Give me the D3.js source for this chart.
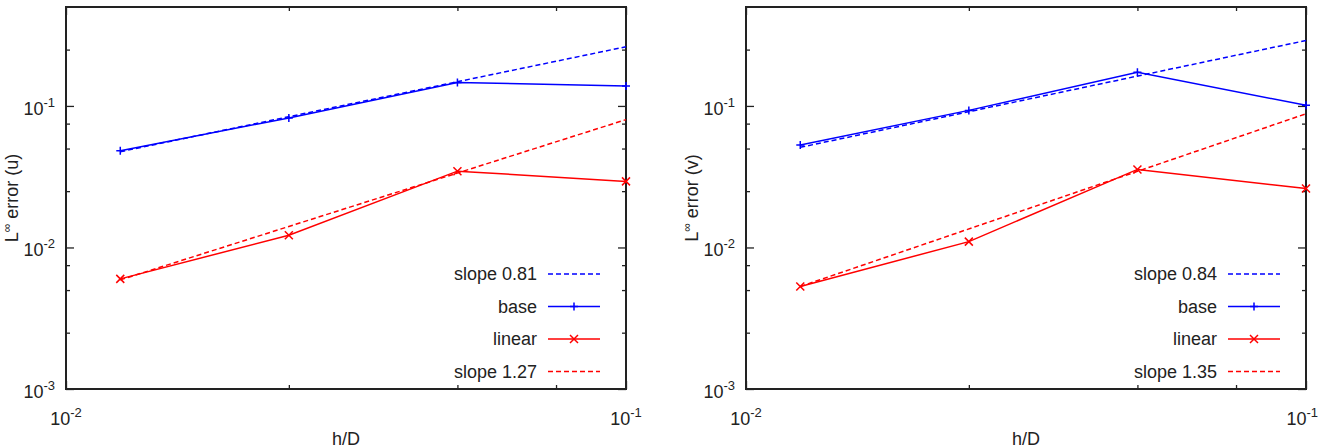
<!DOCTYPE html>
<html><head><meta charset="utf-8">
<script src="https://cdn.jsdelivr.net/npm/d3@7"></script>
<style>body{margin:0;background:#fff}svg{display:block}text{font-family:"Liberation Sans",Arial,sans-serif;fill:#222}</style>
</head><body>
<svg id="c" width="1320" height="448"></svg>
<script>
// ---- data ----
const hD = [0.0125, 0.025, 0.05, 0.1];
const fitX = [0.0125, 0.1];
const uBase = [0.0483, 0.0822, 0.1466, 0.1384];
const uLinear = [0.0060, 0.0122, 0.0346, 0.0293];
const uSlopeBase = [0.0475, 0.262];
const uSlopeLinear = [0.0059, 0.080];
const vBase = [0.053, 0.093, 0.173, 0.101];
const vLinear = [0.0053, 0.0110, 0.0356, 0.0261];
const vSlopeBase = [0.051, 0.29];
const vSlopeLinear = [0.0053, 0.088];
const xMajor = [0.01, 0.1];
const xMajorExp = ["-2", "-1"];
const xMinor = [0.025, 0.05, 0.075];
const yMajor = [0.001, 0.01, 0.1];
const yMajorExp = ["-3", "-2", "-1"];
const yMinor = [0.0025, 0.005, 0.0075, 0.025, 0.05, 0.075, 0.25];
const xDomain = [0.01, 0.1];
const yDomain = [0.001, 0.5];
const panelVars = ["u", "v"];
const slopeLabels = [["slope 0.81", "slope 1.27"], ["slope 0.84", "slope 1.35"]];
const baseSeries = [uBase, vBase];
const linSeries = [uLinear, vLinear];
const slopeBaseSeries = [uSlopeBase, vSlopeBase];
const slopeLinSeries = [uSlopeLinear, vSlopeLinear];

const BLUE = "#0000ff", RED = "#ff0000", BORDER = "#222";
const svg = d3.select("#c");
const W = 1320;
const panels = [{x0: 66, x1: 626}, {x0: 746, x1: 1306}];
const yTop = 7, yBottom = 389;

function plus(g, x, y, c) {
  g.append("path").attr("d", `M${x-4},${y}H${x+4}M${x},${y-4}V${y+4}`)
    .attr("stroke", c).attr("stroke-width", 1.5).attr("fill", "none");
}
function cross(g, x, y, c) {
  g.append("path").attr("d", `M${x-4},${y-4}L${x+4},${y+4}M${x-4},${y+4}L${x+4},${y-4}`)
    .attr("stroke", c).attr("stroke-width", 1.5).attr("fill", "none");
}

panels.forEach((p, i) => {
  const x = d3.scaleLog().domain(xDomain).range([p.x0, p.x1]);
  const y = d3.scaleLog().domain(yDomain).range([yBottom, yTop]);
  const g = svg.append("g");

  [[d3.axisBottom, yBottom], [d3.axisTop, yTop]].forEach(([fn, pos]) => {
    g.append("g").attr("transform", `translate(0,${pos})`)
      .call(fn(x).tickValues(xMajor).tickSize(-8).tickFormat(""));
    g.append("g").attr("transform", `translate(0,${pos})`)
      .call(fn(x).tickValues(xMinor).tickSize(-4).tickFormat(""));
  });
  [[d3.axisLeft, p.x0], [d3.axisRight, p.x1]].forEach(([fn, pos]) => {
    g.append("g").attr("transform", `translate(${pos},0)`)
      .call(fn(y).tickValues(yMajor).tickSize(-8).tickFormat(""));
    g.append("g").attr("transform", `translate(${pos},0)`)
      .call(fn(y).tickValues(yMinor).tickSize(-4).tickFormat(""));
  });
  g.selectAll(".domain").remove();
  g.selectAll(".tick line").attr("stroke", BORDER).attr("stroke-width", 1.3);

  g.append("rect").attr("x", p.x0).attr("y", yTop).attr("width", p.x1 - p.x0).attr("height", yBottom - yTop)
    .attr("fill", "none").attr("stroke", BORDER).attr("stroke-width", 2);

  yMajor.forEach((v, k) => {
    const t = g.append("text").attr("x", p.x0 - 11).attr("y", y(v) + 9)
      .attr("text-anchor", "end").attr("font-size", 18);
    t.append("tspan").text("10");
    t.append("tspan").attr("dy", -8).attr("font-size", 13).text(yMajorExp[k]);
  });
  xMajor.forEach((v, k) => {
    const t = g.append("text").attr("x", x(v)).attr("y", yBottom + 36)
      .attr("text-anchor", "middle").attr("font-size", 18);
    t.append("tspan").text("10");
    t.append("tspan").attr("dy", -8).attr("font-size", 13).text(xMajorExp[k]);
    const bb = t.node().getBBox();
    if (bb.x + bb.width > W - 2) t.attr("x", x(v) - (bb.x + bb.width - (W - 2)));
  });

  g.append("text").attr("x", (p.x0 + p.x1) / 2).attr("y", 445).attr("text-anchor", "middle")
    .attr("font-size", 18).text("h/D");
  const yl = g.append("text").attr("transform", `translate(${p.x0 - 48},${(yTop + yBottom) / 2}) rotate(-90)`)
    .attr("text-anchor", "middle").attr("font-size", 18);
  yl.append("tspan").text("L");
  yl.append("tspan").attr("dy", -7).attr("font-size", 12).text("∞");
  yl.append("tspan").attr("dy", 7).text(" error (" + panelVars[i] + ")");

  const line = d3.line().x(d => x(d[0])).y(d => y(d[1]));
  const sB = fitX.map((xx, k) => [xx, slopeBaseSeries[i][k]]);
  const sL = fitX.map((xx, k) => [xx, slopeLinSeries[i][k]]);
  const b = hD.map((xx, k) => [xx, baseSeries[i][k]]);
  const l = hD.map((xx, k) => [xx, linSeries[i][k]]);

  g.append("path").attr("d", line(sB)).attr("stroke", BLUE).attr("stroke-width", 1.5)
    .attr("stroke-dasharray", "5,3").attr("fill", "none");
  g.append("path").attr("d", line(b)).attr("stroke", BLUE).attr("stroke-width", 1.5).attr("fill", "none");
  b.forEach(d => plus(g, x(d[0]), y(d[1]), BLUE));
  g.append("path").attr("d", line(l)).attr("stroke", RED).attr("stroke-width", 1.5).attr("fill", "none");
  l.forEach(d => cross(g, x(d[0]), y(d[1]), RED));
  g.append("path").attr("d", line(sL)).attr("stroke", RED).attr("stroke-width", 1.5)
    .attr("stroke-dasharray", "5,3").attr("fill", "none");

  const items = [
    {label: slopeLabels[i][0], c: BLUE, dash: true},
    {label: "base", c: BLUE, m: plus},
    {label: "linear", c: RED, m: cross},
    {label: slopeLabels[i][1], c: RED, dash: true},
  ];
  items.forEach((it, k) => {
    const cy = 274 + k * 32.5;
    g.append("text").attr("x", p.x1 - 89).attr("y", cy + 6).attr("text-anchor", "end")
      .attr("font-size", 18).text(it.label);
    g.append("line").attr("x1", p.x1 - 78).attr("x2", p.x1 - 26).attr("y1", cy).attr("y2", cy)
      .attr("stroke", it.c).attr("stroke-width", 1.5).attr("stroke-dasharray", it.dash ? "5,3" : null);
    if (it.m) it.m(g, p.x1 - 52, cy, it.c);
  });
});
</script>
</body></html>
